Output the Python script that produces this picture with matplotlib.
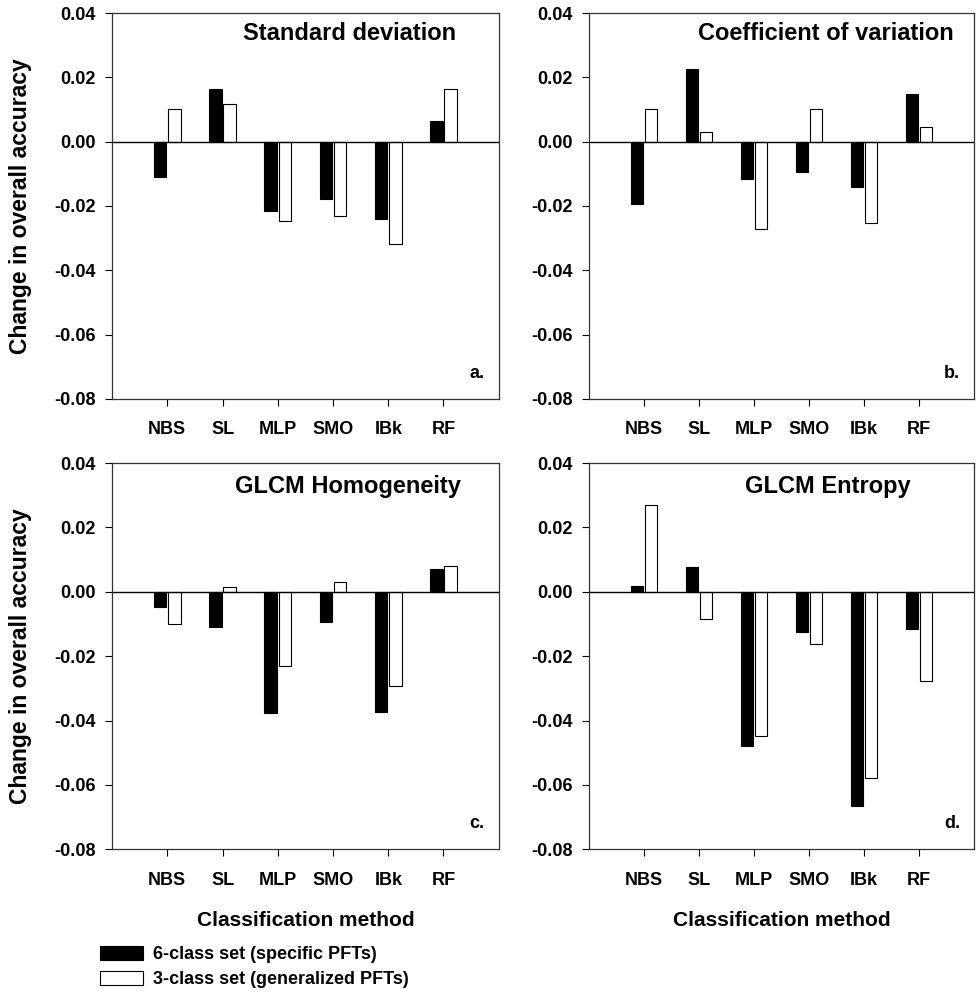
import numpy as np
import matplotlib
matplotlib.use("Agg")
import matplotlib.pyplot as plt

plt.rcParams['font.family'] = ['Liberation Sans', 'DejaVu Sans']
plt.rcParams['font.weight'] = 'bold'
plt.rcParams['axes.unicode_minus'] = False

methods = ['NBS', 'SL', 'MLP', 'SMO', 'IBk', 'RF']
titles = ['Standard deviation', 'Coefficient of variation',
          'GLCM Homogeneity', 'GLCM Entropy']
letters = ['a.', 'b.', 'c.', 'd.']

# change in overall accuracy, 6-class set (specific PFTs)
six_sd = [-0.011, 0.0163, -0.0217, -0.0178, -0.024, 0.0063]
six_cv = [-0.0193, 0.0225, -0.0117, -0.0094, -0.014, 0.0147]
six_hom = [-0.0048, -0.0109, -0.0378, -0.0093, -0.0372, 0.007]
six_ent = [0.0017, 0.0078, -0.0479, -0.0124, -0.0664, -0.0117]

# 3-class set (generalized PFTs)
three_sd = [0.0102, 0.0116, -0.0247, -0.0232, -0.0317, 0.0163]
three_cv = [0.0102, 0.003, -0.027, 0.0102, -0.0254, 0.0047]
three_hom = [-0.0099, 0.0016, -0.0232, 0.0031, -0.0294, 0.0079]
three_ent = [0.027, -0.0086, -0.0447, -0.0162, -0.0578, -0.0277]

six_all = [six_sd, six_cv, six_hom, six_ent]
three_all = [three_sd, three_cv, three_hom, three_ent]

yticks = [0.04, 0.02, 0.00, -0.02, -0.04, -0.06, -0.08]

fig = plt.figure(figsize=(9.76, 9.93), dpi=100)

# axes boxes in figure fractions [left, bottom, width, height]
boxes = [[0.1148, 0.5982, 0.3962, 0.3887],
         [0.6035, 0.5982, 0.3945, 0.3887],
         [0.1148, 0.1447, 0.3962, 0.3890],
         [0.6035, 0.1447, 0.3945, 0.3890]]
title_pos = [(0.891, 0.948), (0.948, 0.948), (0.903, 0.939), (0.836, 0.939)]

x = np.arange(1, len(methods) + 1)
w = 0.225
off = 0.128

for i in range(4):
    ax = fig.add_axes(boxes[i])
    b6 = ax.bar(x - off, six_all[i], w, color='black', edgecolor='black', linewidth=0.8)
    b3 = ax.bar(x + off, three_all[i], w, color='white', edgecolor='black', linewidth=0.8)
    ax.axhline(0, color='black', lw=1.0)
    ax.set_xlim(0, 7)
    ax.set_ylim(-0.08, 0.04)
    ax.set_yticks(yticks)
    ax.set_yticklabels(['%.2f' % v for v in yticks])
    ax.set_xticks(x)
    ax.set_xticklabels(methods)
    ax.tick_params(axis='both', direction='out', length=5, width=0.8,
                   labelsize=13, colors='black')
    ax.tick_params(axis='x', pad=11)
    ax.tick_params(axis='y', pad=7)
    for s in ax.spines.values():
        s.set_color('#333333')
        s.set_linewidth(0.9)
    ax.text(title_pos[i][0], title_pos[i][1], titles[i], transform=ax.transAxes,
            ha='right', va='center', fontsize=17, fontweight='bold')
    ax.text(0.964, 0.067, letters[i], transform=ax.transAxes,
            ha='right', va='center', fontsize=13, fontweight='bold')
    if i % 2 == 0:
        ax.set_ylabel('Change in overall accuracy', fontsize=16.5,
                      fontweight='bold', labelpad=16)
    if i >= 2:
        ax.set_xlabel('Classification method', fontsize=15,
                      fontweight='bold', labelpad=16)

fig.legend([b6, b3], ['6-class set (specific PFTs)', '3-class set (generalized PFTs)'],
           loc='upper left', bbox_to_anchor=(0.102, 0.0475), frameon=False,
           fontsize=13, handlelength=2.4, handleheight=0.8,
           handletextpad=0.55, labelspacing=0.45, borderpad=0, borderaxespad=0)

fig.savefig('out.png', dpi=100)
